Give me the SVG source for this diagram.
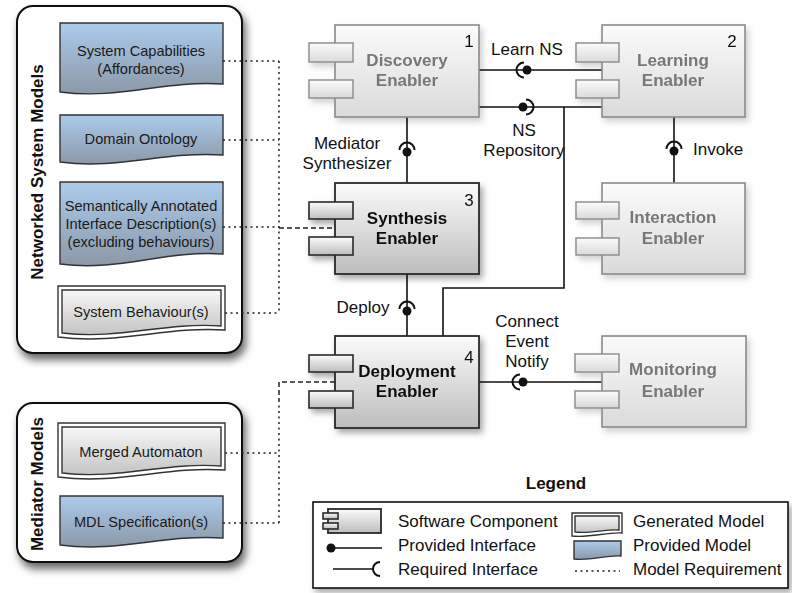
<svg xmlns="http://www.w3.org/2000/svg" width="792" height="593" viewBox="0 0 792 593">
  <defs>
    <linearGradient id="gBlue" x1="0" y1="0" x2="0" y2="1">
      <stop offset="0" stop-color="#abcbec"/>
      <stop offset="1" stop-color="#8c98a8"/>
    </linearGradient>
    <linearGradient id="gGen" x1="0" y1="0" x2="0" y2="1">
      <stop offset="0" stop-color="#f7f7f7"/>
      <stop offset="1" stop-color="#c4c4c4"/>
    </linearGradient>
    <linearGradient id="gComp" x1="0" y1="0" x2="0" y2="1">
      <stop offset="0" stop-color="#fbfbfb"/>
      <stop offset="1" stop-color="#bdbdbd"/>
    </linearGradient>
    <linearGradient id="gGhost" x1="0" y1="0" x2="0" y2="1">
      <stop offset="0" stop-color="#fbfbfb"/>
      <stop offset="1" stop-color="#dadada"/>
    </linearGradient>
    <filter id="panelShadow" x="-10%" y="-10%" width="130%" height="130%">
      <feDropShadow dx="3" dy="6" stdDeviation="4" flood-color="#000" flood-opacity="0.6"/>
    </filter>
    <filter id="compShadow" x="-15%" y="-15%" width="140%" height="140%">
      <feDropShadow dx="3" dy="4" stdDeviation="3" flood-color="#000" flood-opacity="0.35"/>
    </filter>
    <filter id="ghostShadow" x="-15%" y="-15%" width="140%" height="140%">
      <feDropShadow dx="3" dy="4" stdDeviation="3" flood-color="#000" flood-opacity="0.18"/>
    </filter>
  </defs>
  <style>
    text { font-family: "Liberation Sans", Arial, Helvetica, sans-serif; }
    .panel { fill: #fff; stroke: #111; stroke-width: 2; }
    .ptitle { font-size: 17px; font-weight: bold; fill: #111; text-anchor: middle; }
    .doc { stroke: #333; stroke-width: 1.4; }
    .blue { fill: url(#gBlue); }
    .gen { fill: url(#gGen); }
    .genout { fill: #fff; stroke: #333; stroke-width: 1.4; }
    .dtxt { font-size: 14.6px; fill: #1a1a1a; text-anchor: middle; }
    .body { fill: url(#gComp); stroke: #2a2a2a; stroke-width: 1.8; }
    .port { fill: url(#gComp); stroke: #2a2a2a; stroke-width: 1.6; }
    .gbody { fill: url(#gGhost); stroke: #8a8a8a; stroke-width: 1.6; }
    .gport { fill: url(#gGhost); stroke: #8a8a8a; stroke-width: 1.4; }
    .cname { font-size: 17px; font-weight: bold; fill: #111; text-anchor: middle; }
    .gname { font-size: 17px; font-weight: bold; fill: #777; text-anchor: middle; }
    .num { font-size: 17px; fill: #111; text-anchor: middle; }
    .lbl { font-size: 17px; fill: #111; }
    .mid { text-anchor: middle; }
    .wire { fill: none; stroke: #111; stroke-width: 1.6; }
    .sock { fill: none; stroke: #111; stroke-width: 2; }
    .ball { fill: #111; }
    .dot { fill: none; stroke: #222; stroke-width: 1.5; stroke-dasharray: 2 3.5; }
    .dash { fill: none; stroke: #222; stroke-width: 1.5; stroke-dasharray: 5 3; }
  </style>

  <!-- model panels -->
  <g id="networked-models">
    <rect class="panel" x="17" y="6" width="225" height="347" rx="16" filter="url(#panelShadow)"/>
    <text class="ptitle" transform="translate(42.5,172) rotate(-90)">Networked System Models</text>
    <g id="sys-capabilities">
      <path class="doc blue" d="M60,23 H223 V84 C163,80 120,100 60,92 Z"/>
      <text class="dtxt" x="141" y="56">System Capabilities</text>
      <text class="dtxt" x="141" y="74">(Affordances)</text>
    </g>
    <g id="domain-ontology">
      <path class="doc blue" d="M60,115 H223 V155 C163,151 120,170 60,162 Z"/>
      <text class="dtxt" x="141" y="144">Domain Ontology</text>
    </g>
    <g id="interface-descriptions">
      <path class="doc blue" d="M60,182 H223 V254 C163,250 120,272 60,264 Z"/>
      <text class="dtxt" x="141" y="211">Semantically Annotated</text>
      <text class="dtxt" x="141" y="229">Interface Description(s)</text>
      <text class="dtxt" x="141" y="247">(excluding behaviours)</text>
    </g>
    <g id="sys-behaviours">
      <path class="genout" d="M58,286 H225 V330 C165,326 120,345 58,337 Z"/>
      <path class="doc gen" d="M62,290 H221 V326 C163,322 120,340 62,333 Z"/>
      <text class="dtxt" x="141" y="317">System Behaviour(s)</text>
    </g>
  </g>

  <g id="mediator-models">
    <rect class="panel" x="17" y="403" width="225" height="159" rx="16" filter="url(#panelShadow)"/>
    <text class="ptitle" transform="translate(42.5,484) rotate(-90)">Mediator Models</text>
    <g id="merged-automaton">
      <path class="genout" d="M58,423 H225 V470 C165,466 120,485 58,477 Z"/>
      <path class="doc gen" d="M62,427 H221 V466 C163,462 120,480 62,473 Z"/>
      <text class="dtxt" x="141" y="457">Merged Automaton</text>
    </g>
    <g id="mdl-spec">
      <path class="doc blue" d="M60,496 H223 V538 C163,534 120,553 60,545 Z"/>
      <text class="dtxt" x="141" y="527">MDL Specification(s)</text>
    </g>
  </g>

  <!-- connectors -->
  <g id="connectors">
    <!-- model requirements -->
    <path class="dot" d="M223,61 H279 M223,140 H279 M223,227 H279 M225,313 H279 M279,61 V313"/>
    <path class="dash" d="M279,228 H335"/>
    <path class="dash" d="M335,382 H279 V400"/>
    <path class="dot" d="M279,400 V523 M225,453 H279 M223,523 H279"/>

    <!-- Learn NS -->
    <path class="wire" d="M479,70 H602"/>
    <path class="sock" d="M524,62.5 A7.5,7.5 0 0 0 524,77.5"/>
    <circle class="ball" cx="527" cy="70" r="4.5"/>
    <!-- NS Repository -->
    <path class="wire" d="M479,107 H602 M564,107 V288 H443 V336"/>
    <path class="sock" d="M526,99.5 A7.5,7.5 0 0 1 526,114.5"/>
    <circle class="ball" cx="523" cy="107" r="4.5"/>
    <!-- Mediator Synthesizer -->
    <path class="wire" d="M407,117 V183"/>
    <path class="sock" d="M399.5,150 A7.5,7.5 0 0 1 414.5,150"/>
    <circle class="ball" cx="407" cy="152" r="4.5"/>
    <!-- Deploy -->
    <path class="wire" d="M407,274 V336"/>
    <path class="sock" d="M399.5,309 A7.5,7.5 0 0 1 414.5,309"/>
    <circle class="ball" cx="407" cy="311" r="4.5"/>
    <!-- Invoke -->
    <path class="wire" d="M674,117 V183"/>
    <path class="sock" d="M666.5,149 A7.5,7.5 0 0 1 681.5,149"/>
    <circle class="ball" cx="674" cy="151" r="4.5"/>
    <!-- Connect Event Notify -->
    <path class="wire" d="M479,382 H602"/>
    <path class="sock" d="M520,374.5 A7.5,7.5 0 0 0 520,389.5"/>
    <circle class="ball" cx="523" cy="382" r="4.5"/>

    <text class="lbl mid" x="527" y="55">Learn NS</text>
    <text class="lbl mid" x="524" y="136">NS</text>
    <text class="lbl mid" x="524" y="156">Repository</text>
    <text class="lbl mid" x="347" y="149">Mediator</text>
    <text class="lbl mid" x="347" y="169">Synthesizer</text>
    <text class="lbl mid" x="363" y="313">Deploy</text>
    <text class="lbl" x="693" y="155">Invoke</text>
    <text class="lbl mid" x="527" y="327">Connect</text>
    <text class="lbl mid" x="527" y="347">Event</text>
    <text class="lbl mid" x="527" y="367">Notify</text>
  </g>

  <!-- components -->
  <g id="discovery-enabler" filter="url(#ghostShadow)">
    <rect class="gbody" x="335" y="25" width="144" height="92"/>
    <rect class="gport" x="309" y="43" width="44" height="19"/>
    <rect class="gport" x="309" y="80" width="44" height="18"/>
    <text class="gname" x="407" y="66">Discovery</text>
    <text class="gname" x="407" y="86">Enabler</text>
    <text class="num" x="469" y="47">1</text>
  </g>
  <g id="learning-enabler" filter="url(#ghostShadow)">
    <rect class="gbody" x="602" y="25" width="143" height="92"/>
    <rect class="gport" x="576" y="43" width="43" height="19"/>
    <rect class="gport" x="576" y="80" width="43" height="18"/>
    <text class="gname" x="673" y="66">Learning</text>
    <text class="gname" x="673" y="86">Enabler</text>
    <text class="num" x="732" y="47">2</text>
  </g>
  <g id="interaction-enabler" filter="url(#ghostShadow)">
    <rect class="gbody" x="602" y="183" width="143" height="91"/>
    <rect class="gport" x="576" y="202" width="43" height="17"/>
    <rect class="gport" x="576" y="238" width="43" height="17"/>
    <text class="gname" x="673" y="223">Interaction</text>
    <text class="gname" x="673" y="244">Enabler</text>
  </g>
  <g id="synthesis-enabler" filter="url(#compShadow)">
    <rect class="body" x="335" y="183" width="144" height="91"/>
    <rect class="port" x="309" y="202" width="44" height="17"/>
    <rect class="port" x="309" y="237" width="44" height="18"/>
    <text class="cname" x="407" y="224">Synthesis</text>
    <text class="cname" x="407" y="244">Enabler</text>
    <text class="num" x="469" y="206">3</text>
  </g>
  <g id="deployment-enabler" filter="url(#compShadow)">
    <rect class="body" x="335" y="336" width="144" height="92"/>
    <rect class="port" x="309" y="355" width="44" height="17"/>
    <rect class="port" x="309" y="391" width="44" height="17"/>
    <text class="cname" x="407" y="377">Deployment</text>
    <text class="cname" x="407" y="397">Enabler</text>
    <text class="num" x="469" y="363">4</text>
  </g>
  <g id="monitoring-enabler" filter="url(#ghostShadow)">
    <rect class="gbody" x="602" y="336" width="144" height="91"/>
    <rect class="gport" x="575" y="354" width="44" height="18"/>
    <rect class="gport" x="575" y="391" width="44" height="17"/>
    <text class="gname" x="673" y="375">Monitoring</text>
    <text class="gname" x="673" y="397">Enabler</text>
  </g>

  <!-- legend -->
  <g id="legend">
    <text class="lbl mid" x="556" y="489" font-weight="bold">Legend</text>
    <rect x="313" y="502" width="475" height="86" fill="#fff" stroke="#111" stroke-width="1.6" filter="url(#compShadow)"/>
    <rect class="body" x="328" y="509" width="53" height="24" stroke-width="1.3"/>
    <rect class="port" x="323" y="513" width="15" height="6" stroke-width="1.2"/>
    <rect class="port" x="323" y="523" width="15" height="6" stroke-width="1.2"/>
    <text class="lbl" x="398" y="527">Software Component</text>
    <path class="wire" d="M331,548 H382"/>
    <circle class="ball" cx="331" cy="548" r="4.5"/>
    <text class="lbl" x="398" y="551">Provided Interface</text>
    <path class="wire" d="M333,569 H374"/>
    <path class="sock" d="M380,562 A7,7 0 0 0 380,576" stroke-width="1.6"/>
    <text class="lbl" x="398" y="575">Required Interface</text>
    <path class="genout" d="M572,513 H622 V533 C607,532 590,538 572,536 Z"/>
    <path class="doc gen" d="M575,516 H619 V530 C605,529 590,534 575,532 Z" stroke-width="1.1"/>
    <text class="lbl" x="633" y="527">Generated Model</text>
    <path class="doc blue" d="M574,541 H621 V556 C606,555 590,561 574,559 Z" stroke-width="1.2"/>
    <text class="lbl" x="633" y="551">Provided Model</text>
    <path class="dot" d="M575,571 H620"/>
    <text class="lbl" x="633" y="575">Model Requirement</text>
  </g>
</svg>
